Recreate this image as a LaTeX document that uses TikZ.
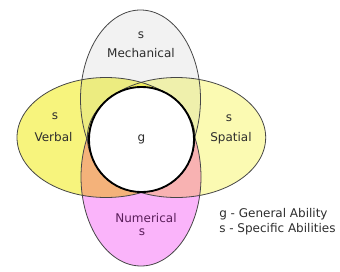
\documentclass[tikz,border=0pt]{standalone}
\usepackage{fontspec}
\setmainfont{DejaVu Sans}
\definecolor{cV}{RGB}{247,244,125}
\definecolor{cS}{RGB}{251,250,178}
\definecolor{cM}{RGB}{242,242,242}
\definecolor{cN}{RGB}{250,180,250}
\definecolor{cVM}{RGB}{236,236,128}
\definecolor{cSM}{RGB}{239,240,172}
\definecolor{cVN}{RGB}{244,178,122}
\definecolor{cSN}{RGB}{248,178,178}
\definecolor{cVS}{RGB}{243,240,100}
\definecolor{cVSM}{RGB}{238,236,96}
\definecolor{cVSN}{RGB}{242,176,110}
\definecolor{lineC}{RGB}{70,70,70}
\definecolor{txt}{RGB}{45,45,45}
\definecolor{txtN}{RGB}{90,30,90}
\tikzset{
  eV/.style={insert path={(106,137.5) ellipse [x radius=66.75pt, y radius=45pt]}},
  eS/.style={insert path={(176.5,137.5) ellipse [x radius=66.9pt, y radius=45pt]}},
  eM/.style={insert path={(140.5,99) ellipse [x radius=45pt, y radius=66.75pt]}},
  eN/.style={insert path={(141,177) ellipse [x radius=45pt, y radius=66.75pt]}},
  ell/.style={draw=lineC, line width=0.6pt},
  lbl/.style={anchor=base, inner sep=0pt, text=txt, font=\fontsize{9}{11}\selectfont},
  leg/.style={lbl, anchor=base west},
}
\begin{document}
\begin{tikzpicture}[x=0.75pt,y=-0.75pt]
\useasboundingbox (0,0) rectangle (340,272);
% base fills
\fill[cV,eV];
\fill[cS,eS];
\fill[cM,eM];
\fill[cN,eN];
% overlaps with Spatial
\begin{scope}
  \clip[eS];
  \fill[cSM,eM];
  \fill[cSN,eN];
\end{scope}
% overlaps with Verbal
\begin{scope}
  \clip[eV];
  \fill[cVM,eM];
  \fill[cVN,eN];
  \fill[cVS,eS];
  \begin{scope}
    \clip[eS];
    \fill[cVSM,eM];
    \fill[cVSN,eN];
  \end{scope}
\end{scope}
% outlines
\draw[ell,eV];
\draw[ell,eS];
\draw[ell,eM];
\draw[ell,eN];
% general ability circle
\node[draw=black, line width=1.4pt, fill=white, circle, minimum size=78.8pt, inner sep=0pt] (g) at (141.5,139.5) {};
% labels
\node[lbl] (sM) at (141,38.5) {s};
\node[lbl] (lM) at (141,57) {Mechanical};
\node[lbl] (sV) at (55,119) {s};
\node[lbl] (lV) at (53.5,141.5) {Verbal};
\node[lbl] (lg) at (141.5,141.5) {g};
\node[lbl] (sS) at (229,121.5) {s};
\node[lbl] (lS) at (231,141.5) {Spatial};
\node[lbl, text=txtN] (lN) at (146,222.3) {Numerical};
\node[lbl, text=txtN] (sN) at (142,235.7) {s};
\node[leg] (leg1) at (219,217.7) {g - General Ability};
\node[leg] (leg2) at (219,232.3) {s - Specific Abilities};
\end{tikzpicture}
\end{document}
